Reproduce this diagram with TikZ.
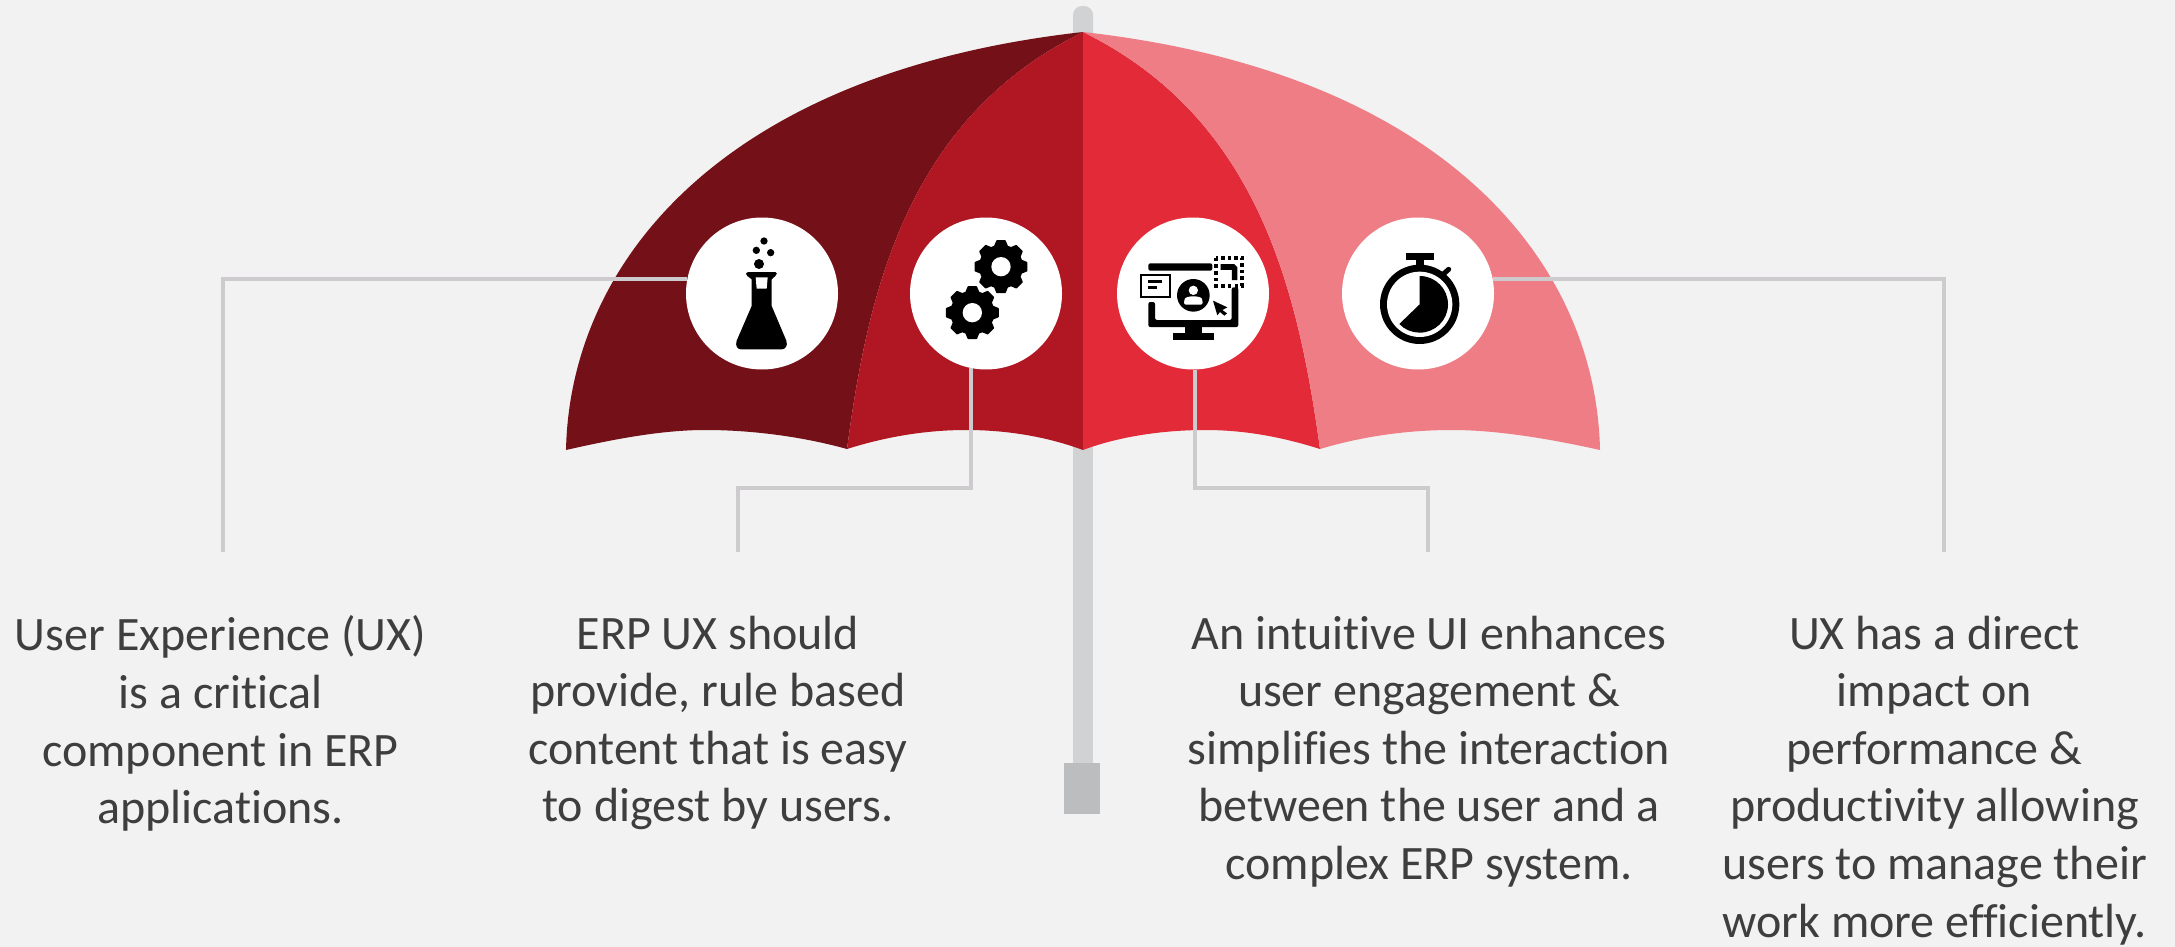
\documentclass[tikz,border=0pt]{standalone}
\usepackage{fontspec}
\setmainfont[RawFeature={-liga;-clig}]{Carlito}
\definecolor{bgc}{HTML}{F2F2F2}
\definecolor{pnlA}{HTML}{741017}
\definecolor{pnlB}{HTML}{B01722}
\definecolor{pnlC}{HTML}{E22A38}
\definecolor{pnlD}{HTML}{EF7D86}
\definecolor{polec}{HTML}{D1D2D4}
\definecolor{handc}{HTML}{BCBDBF}
\definecolor{linkc}{HTML}{CDCBCD}
\definecolor{textc}{HTML}{3E3E3E}
\newcommand{\mygear}[2]{%
  \begin{scope}[shift={(#1,#2)}]
    \filldraw[black,line width=1.5pt,line join=round]
      \foreach \a in {0,45,...,315} {
        (\a-17:64) -- (\a-9:78) -- (\a+9:78) -- (\a+17:64)
      } -- cycle;
    \fill[black] (0,0) circle[radius=66];
    \fill[white] (0,0) circle[radius=29];
  \end{scope}}
\tikzset{
  badge/.style={circle,fill=white,minimum size=152pt,inner sep=0pt},
  link/.style={linkc,line width=4pt},
  blurb/.style={anchor=north,inner sep=0pt,align=center,text=textc,
    font=\fontsize{48}{57.6}\selectfont},
}
\begin{document}
\begin{tikzpicture}[x=1pt,y=-1pt]
\useasboundingbox (0,0) rectangle (2175,947);
\fill[bgc] (0,0) rectangle (2175,947);
% pole
\fill[polec,rounded corners=9pt] (1073,6) rectangle (1093,60);
\fill[polec] (1073,30) rectangle (1093,763);
\fill[handc] (1064,763) rectangle (1100,814);
% canopy
\fill[pnlA] (566,450) .. controls (570,260) and (725,72) .. (1083,32)
  .. controls (908,118) and (868,290) .. (847,449)
  .. controls (800,436) and (750,430) .. (705,430)
  .. controls (660,430) and (610,440) .. (566,450) -- cycle;
\fill[pnlB] (847,449) .. controls (868,290) and (908,118) .. (1083,32)
  -- (1083,450)
  .. controls (1045,436) and (1005,430) .. (966,430)
  .. controls (925,430) and (885,437) .. (847,449) -- cycle;
\fill[pnlC] (1083,32) .. controls (1258,118) and (1298,290) .. (1320,449)
  .. controls (1282,437) and (1245,430) .. (1205,430)
  .. controls (1165,430) and (1120,436) .. (1083,450) -- cycle;
\fill[pnlD] (1083,32) .. controls (1441,72) and (1596,260) .. (1600,450)
  .. controls (1555,440) and (1500,430) .. (1452,430)
  .. controls (1405,430) and (1360,437) .. (1320,449)
  .. controls (1298,290) and (1258,118) .. (1083,32) -- cycle;
% badges
\node[badge] (c1) at (762,293.5) {};
\node[badge] (c2) at (986,293.5) {};
\node[badge] (c3) at (1193,293.5) {};
\node[badge] (c4) at (1418,293.5) {};
% connector ends
\coordinate (e1a) at (223,279);
\coordinate (e1b) at (223,552);
\coordinate (e2a) at (971,488);
\coordinate (e2b) at (738,488);
\coordinate (e2c) at (738,552);
\coordinate (e3a) at (1195,488);
\coordinate (e3b) at (1428,488);
\coordinate (e3c) at (1428,552);
\coordinate (e4a) at (1944,279);
\coordinate (e4b) at (1944,552);
\draw[link] (c1.169 |- e1a) -- (e1a) -- (e1b);
\draw[link] (e2a |- c2.259) -- (e2a) -- (e2b) -- (e2c);
\draw[link] (e3a |- c3.271.5) -- (e3a) -- (e3b) -- (e3c);
\draw[link] (c4.11 |- e4a) -- (e4a) -- (e4b);
% flask
\begin{scope}[shift={(660,200)},x=1pt/3,y=-1pt/3]
  \fill[black,line join=round]
    (264,216) -- (346,216) .. controls (352,216) and (352,224) .. (346,228)
    -- (335,238) -- (335,318) -- (379,422)
    .. controls (384,438) and (376,448) .. (365,448) -- (243,448)
    .. controls (232,448) and (225,438) .. (230,422)
    -- (275,318) -- (275,238) -- (262,228)
    .. controls (256,224) and (256,216) .. (264,216) -- cycle;
  \fill[white] (287,232) -- (323,232) -- (320,266) -- (290,266) -- cycle;
  \fill[black] (297,192) circle[radius=15];
  \fill[black] (289,151) circle[radius=11];
  \fill[black] (332,158) circle[radius=11];
  \fill[black] (312,123) circle[radius=11];
  \mygear{1023}{200}
  \mygear{937}{338}
\end{scope}
\begin{scope}[shift={(1090,200)},x=1pt/3,y=-1pt/3]
  % monitor
  \fill[black,rounded corners=2pt] (175,212) -- (175,190) -- (367,190) -- (367,212) -- cycle;
  \fill[black,rounded corners=2pt] (175,306) -- (195,306) -- (195,360) -- (425,360) -- (425,262) -- (445,262) -- (445,381) -- (175,381) -- cycle;
  \fill[black] (285,380) rectangle (335,400);
  \fill[black] (249,400) rectangle (371,421);
  \filldraw[fill=white,draw=black,line width=2pt] (154,224) rectangle (240,290);
  \fill[black] (174,240) rectangle (216,250);
  \fill[black] (174,258) rectangle (202,268);
  % person
  \fill[black] (310,286) circle[radius=49];
  \fill[white] (310,271) circle[radius=14];
  \fill[white,rounded corners=2pt] (282,314) -- (282,302) .. controls (286,292) and (298,289) .. (310,289)
    .. controls (322,289) and (334,292) .. (338,302) -- (338,314) -- cycle;
  % cursor
  \fill[black] (369,302) -- (412,322) -- (397,330) -- (411,340) -- (403,347) -- (390,336) -- (382,346) -- cycle;
  % dotted frame
  \draw[black,line width=3.8pt,dash pattern=on 3.6pt off 3.1pt] (377,173) rectangle (457,257);
  \draw[black,line width=5.6pt,rounded corners=1.5pt] (392,201) -- (434,201) -- (434,240);
  % stopwatch
  \fill[black] (948,158) rectangle (1032,180);
  \fill[black] (979,178) rectangle (1001,200);
  \draw[black,line width=5pt,line cap=round] (1058,224) -- (1076,208);
  \fill[black] (989,313) circle[radius=119];
  \fill[white] (989,313) circle[radius=98];
  \fill[black] (989,313) -- (989,228) arc[start angle=-90,end angle=136,radius=85] -- cycle;
\end{scope}
% texts
\node[blurb] (t1) at (220.5,615.5) {User Experience (UX)\\is a critical\\component in ERP\\applications.};
\node[blurb] (t2) at (718,615.5) {ERP UX should\\provide, rule based\\content that is easy\\to digest by users.};
\node[blurb] (t3) at (1429,615.5) {An intuitive UI enhances\\user engagement \&\\simplifies the interaction\\between the user and a\\complex ERP system.};
\node[blurb] (t4) at (1934.5,615.5) {UX has a direct\\impact on\\performance \&\\productivity allowing\\users to manage their\\work more efficiently.};
\end{tikzpicture}
\end{document}
